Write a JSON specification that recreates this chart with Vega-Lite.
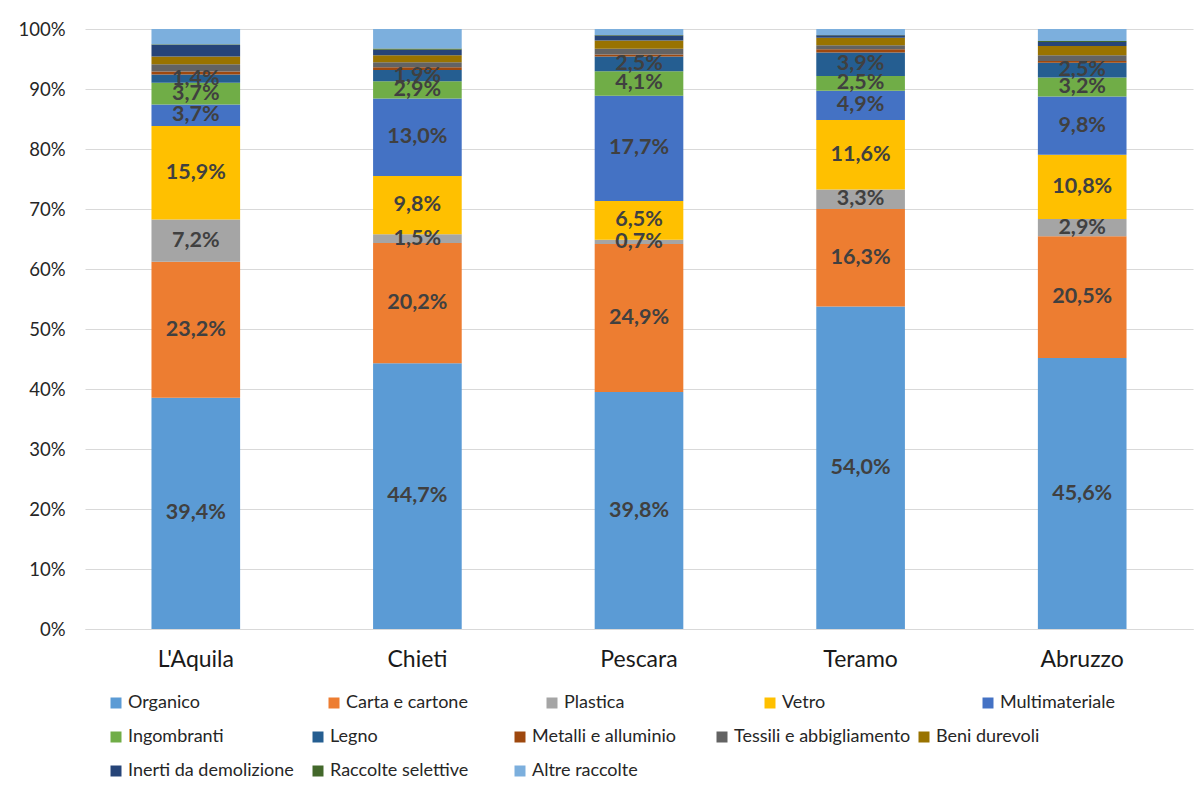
{
  "$schema": "https://vega.github.io/schema/vega-lite/v6.json",
  "width": 1108,
  "height": 600,
  "autosize": {"type": "none"},
  "padding": {"left": 85, "top": 29, "right": 7, "bottom": 161},
  "background": "white",
  "config": {
    "font": "Lato",
    "view": {"stroke": null},
    "axis": {"labelFont": "Lato", "titleFont": "Lato"},
    "legend": {"labelFont": "Lato"}
  },
  "data": {
    "values": [
      {"area": "L'Aquila", "cat": "Organico", "order": 1, "value": 39.4},
      {"area": "L'Aquila", "cat": "Carta e cartone", "order": 2, "value": 23.2},
      {"area": "L'Aquila", "cat": "Plastica", "order": 3, "value": 7.2},
      {"area": "L'Aquila", "cat": "Vetro", "order": 4, "value": 15.9},
      {"area": "L'Aquila", "cat": "Multimateriale", "order": 5, "value": 3.7},
      {"area": "L'Aquila", "cat": "Ingombranti", "order": 6, "value": 3.7},
      {"area": "L'Aquila", "cat": "Legno", "order": 7, "value": 1.4},
      {"area": "L'Aquila", "cat": "Metalli e alluminio", "order": 8, "value": 0.5},
      {"area": "L'Aquila", "cat": "Tessili e abbigliamento", "order": 9, "value": 1.25},
      {"area": "L'Aquila", "cat": "Beni durevoli", "order": 10, "value": 1.3},
      {"area": "L'Aquila", "cat": "Inerti da demolizione", "order": 11, "value": 2.0},
      {"area": "L'Aquila", "cat": "Raccolte selettive", "order": 12, "value": 0.1},
      {"area": "L'Aquila", "cat": "Altre raccolte", "order": 13, "value": 2.6},

      {"area": "Chieti", "cat": "Organico", "order": 1, "value": 44.7},
      {"area": "Chieti", "cat": "Carta e cartone", "order": 2, "value": 20.2},
      {"area": "Chieti", "cat": "Plastica", "order": 3, "value": 1.5},
      {"area": "Chieti", "cat": "Vetro", "order": 4, "value": 9.8},
      {"area": "Chieti", "cat": "Multimateriale", "order": 5, "value": 13.0},
      {"area": "Chieti", "cat": "Ingombranti", "order": 6, "value": 2.9},
      {"area": "Chieti", "cat": "Legno", "order": 7, "value": 1.9},
      {"area": "Chieti", "cat": "Metalli e alluminio", "order": 8, "value": 0.45},
      {"area": "Chieti", "cat": "Tessili e abbigliamento", "order": 9, "value": 0.85},
      {"area": "Chieti", "cat": "Beni durevoli", "order": 10, "value": 1.2},
      {"area": "Chieti", "cat": "Inerti da demolizione", "order": 11, "value": 0.9},
      {"area": "Chieti", "cat": "Raccolte selettive", "order": 12, "value": 0.2},
      {"area": "Chieti", "cat": "Altre raccolte", "order": 13, "value": 3.3},

      {"area": "Pescara", "cat": "Organico", "order": 1, "value": 39.8},
      {"area": "Pescara", "cat": "Carta e cartone", "order": 2, "value": 24.9},
      {"area": "Pescara", "cat": "Plastica", "order": 3, "value": 0.7},
      {"area": "Pescara", "cat": "Vetro", "order": 4, "value": 6.5},
      {"area": "Pescara", "cat": "Multimateriale", "order": 5, "value": 17.7},
      {"area": "Pescara", "cat": "Ingombranti", "order": 6, "value": 4.1},
      {"area": "Pescara", "cat": "Legno", "order": 7, "value": 2.5},
      {"area": "Pescara", "cat": "Metalli e alluminio", "order": 8, "value": 0.3},
      {"area": "Pescara", "cat": "Tessili e abbigliamento", "order": 9, "value": 1.0},
      {"area": "Pescara", "cat": "Beni durevoli", "order": 10, "value": 1.35},
      {"area": "Pescara", "cat": "Inerti da demolizione", "order": 11, "value": 0.85},
      {"area": "Pescara", "cat": "Raccolte selettive", "order": 12, "value": 0.1},
      {"area": "Pescara", "cat": "Altre raccolte", "order": 13, "value": 1.0},

      {"area": "Teramo", "cat": "Organico", "order": 1, "value": 54.0},
      {"area": "Teramo", "cat": "Carta e cartone", "order": 2, "value": 16.3},
      {"area": "Teramo", "cat": "Plastica", "order": 3, "value": 3.3},
      {"area": "Teramo", "cat": "Vetro", "order": 4, "value": 11.6},
      {"area": "Teramo", "cat": "Multimateriale", "order": 5, "value": 4.9},
      {"area": "Teramo", "cat": "Ingombranti", "order": 6, "value": 2.5},
      {"area": "Teramo", "cat": "Legno", "order": 7, "value": 3.9},
      {"area": "Teramo", "cat": "Metalli e alluminio", "order": 8, "value": 0.55},
      {"area": "Teramo", "cat": "Tessili e abbigliamento", "order": 9, "value": 0.67},
      {"area": "Teramo", "cat": "Beni durevoli", "order": 10, "value": 1.28},
      {"area": "Teramo", "cat": "Inerti da demolizione", "order": 11, "value": 0.4},
      {"area": "Teramo", "cat": "Raccolte selettive", "order": 12, "value": 0.05},
      {"area": "Teramo", "cat": "Altre raccolte", "order": 13, "value": 1.0},

      {"area": "Abruzzo", "cat": "Organico", "order": 1, "value": 45.6},
      {"area": "Abruzzo", "cat": "Carta e cartone", "order": 2, "value": 20.5},
      {"area": "Abruzzo", "cat": "Plastica", "order": 3, "value": 2.9},
      {"area": "Abruzzo", "cat": "Vetro", "order": 4, "value": 10.8},
      {"area": "Abruzzo", "cat": "Multimateriale", "order": 5, "value": 9.8},
      {"area": "Abruzzo", "cat": "Ingombranti", "order": 6, "value": 3.2},
      {"area": "Abruzzo", "cat": "Legno", "order": 7, "value": 2.5},
      {"area": "Abruzzo", "cat": "Metalli e alluminio", "order": 8, "value": 0.3},
      {"area": "Abruzzo", "cat": "Tessili e abbigliamento", "order": 9, "value": 0.95},
      {"area": "Abruzzo", "cat": "Beni durevoli", "order": 10, "value": 1.55},
      {"area": "Abruzzo", "cat": "Inerti da demolizione", "order": 11, "value": 0.67},
      {"area": "Abruzzo", "cat": "Raccolte selettive", "order": 12, "value": 0.2},
      {"area": "Abruzzo", "cat": "Altre raccolte", "order": 13, "value": 2.0}
    ]
  },
  "transform": [
    {
      "stack": "value",
      "groupby": ["area"],
      "sort": [{"field": "order", "order": "ascending"}],
      "offset": "normalize",
      "as": ["y0", "y1"]
    },
    {"calculate": "(datum.y0 + datum.y1) / 2", "as": "ymid"},
    {"calculate": "replace(format(datum.value, '.1f'), '.', ',') + '%'", "as": "label"}
  ],
  "encoding": {
    "x": {
      "field": "area",
      "type": "nominal",
      "sort": ["L'Aquila", "Chieti", "Pescara", "Teramo", "Abruzzo"],
      "scale": {"paddingInner": 0.6, "paddingOuter": 0.3},
      "axis": {
        "title": null,
        "labelAngle": 0,
        "labelFontSize": 23,
        "labelColor": "#1a1a1a",
        "labelPadding": 19,
        "ticks": false,
        "domainColor": "#d9d9d9",
        "domainWidth": 1
      }
    }
  },
  "layer": [
    {
      "transform": [{"filter": "datum.order <= 5"}],
      "mark": {"type": "bar"},
      "encoding": {
        "y": {
          "field": "y0",
          "type": "quantitative",
          "scale": {"domain": [0, 1]},
          "axis": {
            "title": null,
            "format": ".0%",
            "values": [0, 0.1, 0.2, 0.3, 0.4, 0.5, 0.6, 0.7, 0.8, 0.9, 1],
            "labelFontSize": 18.5,
            "labelColor": "#262626",
            "labelPadding": 20,
            "ticks": false,
            "domain": false,
            "gridColor": "#d9d9d9",
            "gridWidth": 1
          }
        },
        "y2": {"field": "y1"},
        "color": {
          "field": "cat",
          "type": "nominal",
          "scale": {
            "domain": ["Organico", "Carta e cartone", "Plastica", "Vetro", "Multimateriale"],
            "range": ["#5B9BD5", "#ED7D31", "#A5A5A5", "#FFC000", "#4472C4"]
          },
          "legend": {
            "title": null,
            "orient": "none",
            "legendX": 22,
            "legendY": 665,
            "direction": "horizontal",
            "columns": 5,
            "gridAlign": "all",
            "columnPadding": 75,
            "padding": 0,
            "symbolType": "square",
            "symbolSize": 121,
            "symbolStrokeWidth": 0,
            "symbolOffset": 0,
            "labelOffset": 3,
            "labelFontSize": 18,
            "labelColor": "#262626",
            "labelLimit": 300
          }
        }
      }
    },
    {
      "transform": [{"filter": "datum.order > 5"}],
      "mark": {"type": "bar"},
      "encoding": {
        "y": {"field": "y0", "type": "quantitative"},
        "y2": {"field": "y1"},
        "fill": {
          "field": "cat",
          "type": "nominal",
          "scale": {
            "domain": ["Ingombranti", "Legno", "Metalli e alluminio", "Tessili e abbigliamento", "Beni durevoli", "Inerti da demolizione", "Raccolte selettive", "Altre raccolte"],
            "range": ["#70AD47", "#255E91", "#9E480E", "#636363", "#997300", "#264478", "#43682B", "#7CAFDD"]
          },
          "legend": {
            "title": null,
            "orient": "none",
            "legendX": 22,
            "legendY": 699,
            "direction": "horizontal",
            "columns": 5,
            "gridAlign": "all",
            "columnPadding": 4,
            "rowPadding": 16,
            "padding": 0,
            "symbolType": "square",
            "symbolSize": 121,
            "symbolStrokeWidth": 0,
            "symbolOffset": 0,
            "labelOffset": 3,
            "labelFontSize": 18,
            "labelColor": "#262626",
            "labelLimit": 300
          }
        }
      }
    },
    {
      "transform": [{"filter": "datum.order <= 7"}],
      "mark": {
        "type": "text",
        "fontSize": 21.5,
        "fontWeight": "bold",
        "color": "#404040",
        "baseline": "middle",
        "align": "center"
      },
      "encoding": {
        "y": {"field": "ymid", "type": "quantitative"},
        "text": {"field": "label", "type": "nominal"}
      }
    }
  ]
}
